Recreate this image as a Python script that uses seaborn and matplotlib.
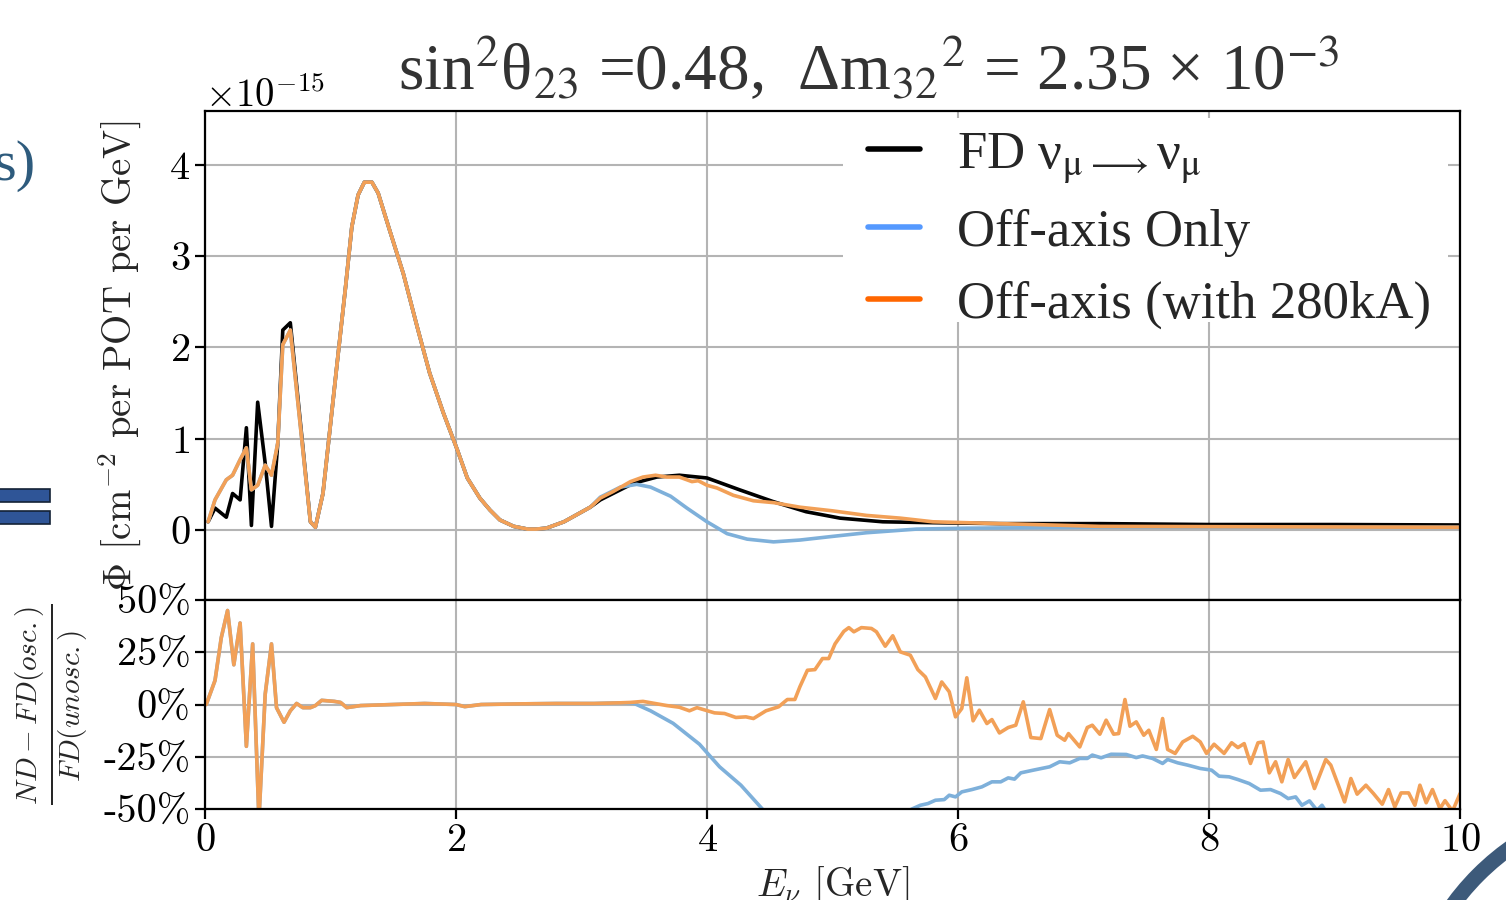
import matplotlib
matplotlib.use("Agg")
from matplotlib import pyplot as plt
from matplotlib.lines import Line2D
from matplotlib.patches import Rectangle, Ellipse
from matplotlib.font_manager import FontProperties
from matplotlib.ticker import FixedLocator, FixedFormatter
import seaborn as sns

# ---- flux (units of 1e-15 cm^-2 per POT per GeV) ----
e_low = [0.025, 0.08, 0.17, 0.22, 0.28, 0.33, 0.37, 0.42, 0.48, 0.53, 0.58, 0.62, 0.68]
fd_low = [0.09, 0.24, 0.14, 0.40, 0.33, 1.12, 0.05, 1.40, 0.73, 0.04, 0.95, 2.19, 2.27]
nd_low = [0.09, 0.33, 0.55, 0.60, 0.77, 0.90, 0.44, 0.49, 0.71, 0.60, 0.95, 2.03, 2.19]

# main peak, where all three curves overlap
e_mid = [0.84, 0.88, 0.94, 1.05, 1.12, 1.17, 1.22, 1.27, 1.33, 1.38, 1.47, 1.58, 1.69,
         1.79, 1.90, 2.01, 2.09, 2.19, 2.27, 2.35, 2.46, 2.57, 2.64, 2.72, 2.86, 3.07]
flux_mid = [0.09, 0.03, 0.40, 1.79, 2.66, 3.32, 3.67, 3.81, 3.81, 3.69, 3.29, 2.81, 2.23,
            1.72, 1.28, 0.88, 0.57, 0.35, 0.22, 0.11, 0.04, 0.01, 0.01, 0.02, 0.09, 0.25]

e_fd_tail = [3.15, 3.41, 3.60, 3.78, 4.00, 4.26, 4.53, 4.79, 5.06, 5.40, 5.80, 6.33, 7.13,
             8.0, 9.0, 10.0]
fd_tail = [0.33, 0.51, 0.58, 0.60, 0.57, 0.44, 0.31, 0.20, 0.13, 0.09, 0.08, 0.07, 0.07,
           0.06, 0.06, 0.055]

e_off_tail = [3.15, 3.31, 3.44, 3.55, 3.71, 3.84, 4.00, 4.16, 4.32, 4.53, 4.74, 5.00, 5.27,
              5.67, 6.07, 7.13, 8.5, 10.0]
off_tail = [0.36, 0.47, 0.50, 0.47, 0.37, 0.24, 0.09, -0.04, -0.10, -0.13, -0.11, -0.07,
            -0.03, 0.01, 0.02, 0.03, 0.03, 0.03]

e_hc_tail = [3.15, 3.25, 3.39, 3.49, 3.59, 3.68, 3.78, 3.88, 3.93, 4.00, 4.08, 4.21, 4.37,
             4.53, 4.74, 5.00, 5.27, 5.54, 5.80, 6.07, 6.60, 7.13, 8.5, 10.0]
hc_tail = [0.35, 0.42, 0.53, 0.58, 0.60, 0.58, 0.58, 0.53, 0.54, 0.49, 0.46, 0.38, 0.32,
           0.30, 0.25, 0.21, 0.16, 0.13, 0.09, 0.08, 0.06, 0.04, 0.035, 0.03]

# ---- ratio (ND - FD(osc.)) / FD(unosc.) in percent ----
r_low_e = [0.01, 0.08, 0.13, 0.18, 0.23, 0.28, 0.33, 0.38, 0.43, 0.48, 0.53, 0.57, 0.63,
           0.68, 0.73, 0.78, 0.84, 0.88, 0.93, 1.03, 1.08, 1.13, 1.24, 1.5, 1.75, 2.0,
           2.07, 2.2, 2.5, 2.8, 3.1, 3.3]
r_low = [0, 11.5, 32, 45, 19, 39, -20, 29, -55, 5, 29, -1.5, -8.5, -3, 0.5, -1.5, -1.5,
         -0.5, 2, 1.5, 1, -1.5, -0.5, 0, 0.5, 0, -1, 0, 0.3, 0.5, 0.5, 0.8]

r_off_e = [3.42, 3.55, 3.73, 3.94, 4.10, 4.27, 4.39, 4.45, 4.7, 5.0, 5.3, 5.64, 5.70, 5.76,
           5.82, 5.89, 5.93, 5.98, 6.03, 6.11, 6.19, 6.27, 6.34, 6.40, 6.45, 6.50, 6.60,
           6.73, 6.81, 6.89, 6.97, 7.03, 7.07, 7.14, 7.22, 7.34, 7.42, 7.47, 7.55, 7.63,
           7.67, 7.75, 7.83, 7.93, 8.02, 8.08, 8.16, 8.23, 8.32, 8.41, 8.49, 8.57, 8.63,
           8.69, 8.74, 8.80, 8.86, 8.90, 8.94, 9.3, 10.0]
r_off = [0.5, -3, -9, -19, -29.8, -38.6, -46.6, -50.6, -60, -66, -60, -49.8, -48.2, -47.4,
         -45.8, -45.5, -43.4, -44.2, -41.8, -40.7, -39.4, -37, -37, -35.1, -35.7, -32.7,
         -31.4, -29.8, -27.4, -27.9, -25.8, -25.8, -24.2, -25.5, -23.8, -23.9, -25.4, -24.6,
         -25.8, -28.2, -26.3, -27.9, -29, -30.6, -31.4, -34.3, -34.6, -35.9, -37.8, -41,
         -40.7, -42.6, -45, -44.2, -48.2, -46.1, -50.6, -48.2, -52, -58, -65]

r_hc_e = [3.39, 3.49, 3.68, 3.78, 3.86, 3.92, 4.06, 4.14, 4.23, 4.31, 4.37, 4.47, 4.57,
          4.64, 4.70, 4.74, 4.80, 4.86, 4.92, 4.97, 5.02, 5.09, 5.13, 5.17, 5.23, 5.31,
          5.35, 5.42, 5.48, 5.54, 5.62, 5.68, 5.74, 5.82, 5.87, 5.93, 5.98, 6.03, 6.07,
          6.12, 6.17, 6.23, 6.27, 6.33, 6.40, 6.46, 6.52, 6.58, 6.66, 6.73, 6.79, 6.85,
          6.88, 6.97, 7.03, 7.07, 7.13, 7.18, 7.24, 7.28, 7.33, 7.37, 7.42, 7.48, 7.52,
          7.58, 7.63, 7.67, 7.73, 7.79, 7.87, 7.93, 7.98, 8.04, 8.12, 8.18, 8.23, 8.28,
          8.33, 8.39, 8.43, 8.48, 8.53, 8.58, 8.63, 8.68, 8.77, 8.84, 8.93, 8.97, 9.03,
          9.08, 9.13, 9.18, 9.25, 9.31, 9.38, 9.43, 9.48, 9.53, 9.59, 9.64, 9.68, 9.73,
          9.78, 9.84, 9.88, 9.94, 10.0]
r_hc = [1, 1.5, -0.5, -1.3, -3, -1.5, -4, -4.3, -6.2, -5.9, -6.7, -3, -1.1, 2.4, 2.4, 8.5,
        16.4, 16.7, 22, 22, 29, 35, 36.8, 34.8, 36.8, 36.4, 34.8, 27.9, 32.9, 25.2, 23.6,
        16.7, 13.2, 2.9, 10.8, 6.1, -5.9, -1.9, 12.8, -7.8, -2.7, -9.1, -7.2, -13.6, -11,
        -9.9, 1.3, -15.8, -16.3, -2.4, -14.7, -17.1, -13.9, -20.3, -11, -9.9, -14.2, -7.5,
        -14.2, -13.9, 2.4, -10.4, -8.3, -14.7, -12.3, -21.5, -6.7, -21.5, -23.4, -17.9,
        -15.2, -17.9, -23.4, -19, -23.4, -18.3, -20.6, -18.7, -28.2, -18.3, -17.9, -32.7,
        -27.4, -37, -26.3, -34.9, -27.4, -40.2, -26.3, -29, -38.6, -46.6, -35.4, -42.9,
        -38.6, -42.6, -47.7, -40.7, -49, -42.3, -42.3, -48.2, -38.6, -47, -40.7, -49.8,
        -46, -51, -42.6]

legend_labels = ["FD ν$_{\\mathrm{μ}}$$_{\\longrightarrow}$ν$_{\\mathrm{μ}}$",
                 "Off-axis Only", "Off-axis (with 280kA)"]

sns.set_style("whitegrid")
plt.rcParams.update({
    "font.family": "cmr10",
    "mathtext.fontset": "cm",
    "axes.formatter.use_mathtext": True,
    "axes.unicode_minus": True,
    "axes.edgecolor": "black",
    "axes.linewidth": 1.6,
    "grid.color": "#b4b4b4",
    "grid.linewidth": 1.5,
    "xtick.bottom": True,
    "ytick.left": True,
    "xtick.major.size": 7,
    "ytick.major.size": 7,
    "xtick.major.width": 1.6,
    "ytick.major.width": 1.6,
    "xtick.color": "black",
    "ytick.color": "black",
})

black, blue, orange = "black", "#7eb0da", "#f2a057"
scale = 1e-15

fig = plt.figure(figsize=(15.06, 9), dpi=100)
ax = fig.add_axes([0.1361, 0.3333, 0.8334, 0.5434])
axr = fig.add_axes([0.1361, 0.1011, 0.8334, 0.2322], sharex=ax)

fd_x = e_low + e_mid + e_fd_tail
fd_y = [v * scale for v in fd_low + flux_mid + fd_tail]
off_x = e_low + e_mid + e_off_tail
off_y = [v * scale for v in nd_low + flux_mid + off_tail]
hc_x = e_low + e_mid + e_hc_tail
hc_y = [v * scale for v in nd_low + flux_mid + hc_tail]

sns.lineplot(x=fd_x, y=fd_y, color=black, lw=2.6, sort=False, estimator=None, ax=ax)
sns.lineplot(x=off_x, y=off_y, color=blue, lw=2.6, sort=False, estimator=None, ax=ax)
sns.lineplot(x=hc_x, y=hc_y, color=orange, lw=2.6, sort=False, estimator=None, ax=ax)

sns.lineplot(x=r_low_e + r_off_e, y=r_low + r_off, color=blue, lw=2.6, sort=False,
             estimator=None, ax=axr)
sns.lineplot(x=r_low_e + r_hc_e, y=r_low + r_hc, color=orange, lw=2.6, sort=False,
             estimator=None, ax=axr)

ax.set_xlim(0, 10)
ax.set_ylim(-0.767e-15, 4.59e-15)
ax.set_yticks([0, 1e-15, 2e-15, 3e-15, 4e-15])
ax.tick_params(axis="x", labelbottom=False, length=0)
ax.tick_params(axis="y", labelsize=29, direction="out")
ax.yaxis.get_offset_text().set_fontsize(28)
ax.set_ylabel(r"$\Phi$ [cm$^{-2}$ per POT per GeV]", fontsize=28, labelpad=18)

axr.set_ylim(-50, 50)
axr.yaxis.set_major_locator(FixedLocator([-50, -25, 0, 25, 50]))
axr.yaxis.set_major_formatter(FixedFormatter(["-50%", "-25%", "0%", "25%", "50%"]))
axr.set_xticks([0, 2, 4, 6, 8, 10])
axr.tick_params(axis="both", labelsize=29, direction="out")
axr.set_xlabel(r"$E_{\nu}$ [GeV]", fontsize=28, labelpad=4)
axr.set_ylabel(r"$\frac{ND - FD(osc.)}{FD(unosc.)}$", fontsize=30, labelpad=10)

for a in (ax, axr):
    for s in a.spines.values():
        s.set_color("black")
        s.set_linewidth(1.6)

# white legend panel pasted over the plot
ax.add_patch(Rectangle((0.508, 0.569), 0.482, 0.417, transform=ax.transAxes,
                       facecolor="white", edgecolor="none", zorder=3))
leg_font = FontProperties(family="Liberation Serif", size=38, math_fontfamily="stix")
handles = [Line2D([], [], color=c, lw=4) for c in ("black", "#5599ff", "#ff6600")]
leg = ax.legend(handles, legend_labels, loc="upper left", bbox_to_anchor=(0.528, 0.96),
                frameon=False, prop=leg_font, handlelength=1.0, handletextpad=0.7,
                labelspacing=0.45, borderpad=0, borderaxespad=0)
leg.set_zorder(5)

# slide title and decorations
fig.text(0.577, 0.9, "sin$^{2}$θ$_{23}$ =0.48,  Δm$_{32}$$^{2}$ = 2.35 × 10$^{\\mathrm{-}3}$",
         ha="center", va="baseline", fontsize=47, color="#333333",
         family="Liberation Serif", math_fontfamily="stix")
fig.text(-0.004, 0.815, "s)", ha="left", va="center", fontsize=42, color="#2e5b7d",
         family="Liberation Serif")
for yb in (0.418, 0.442):
    fig.add_artist(Rectangle((-0.01, yb), 0.043, 0.0145, transform=fig.transFigure,
                             facecolor="#2f5597", edgecolor="#142236", lw=1.2))
fig.add_artist(Ellipse((1.1, -0.17), 2 * 252 / 1506, 2 * 252 / 900,
                       transform=fig.transFigure, facecolor="none",
                       edgecolor="#3d5a7a", lw=11))

fig.savefig("out.png", dpi=100)
